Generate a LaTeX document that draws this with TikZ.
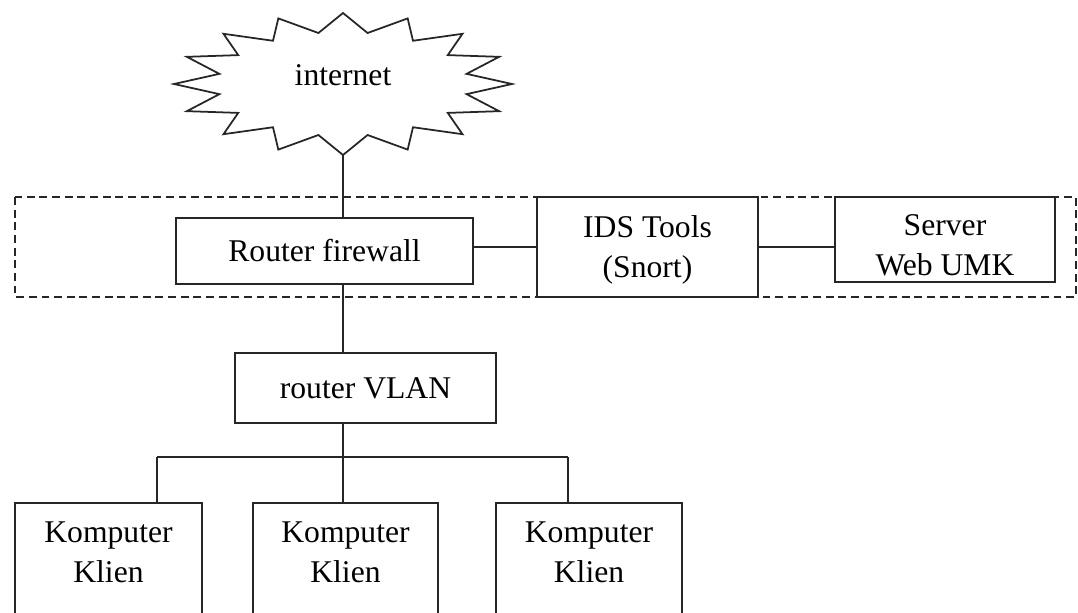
\documentclass[tikz,border=0pt]{standalone}
\usepackage{fontspec}
\setmainfont{Liberation Serif}
\usetikzlibrary{positioning}

\begin{document}
\begin{tikzpicture}[x=0.02cm, y=-0.02cm,
        every node/.style={font=\fontsize{18pt}{22.7pt}\selectfont},
        box/.style={rectangle,draw=black!85,line width=1pt,align=center,inner sep=0pt},
        txt/.style={align=center,inner sep=0pt},
        link/.style={draw=black!85,line width=1pt},
        zone/.style={draw=black!85,line width=1pt,dash pattern=on 4.5pt off 2.7pt}]
  \clip (0,0) rectangle (1078,612);
  % internet cloud
  \draw[link, line join=miter] plot[samples at={0,...,31}, variable=\k]
    ({343+cos(90+11.25*\k)*(iseven(\k)?169:126)}, {84+sin(90+11.25*\k)*(iseven(\k)?71:52)}) -- cycle;
  \node[txt] (net) at (343,75) {internet};
  \coordinate (nets) at (343,155);
  % server zone
  \draw[zone] (15,197) rectangle (1076,297);
  \node[box, minimum width=5.94cm, minimum height=1.32cm] (fw) at (324.5,251) {Router firewall};
  \node[box, minimum width=4.42cm, minimum height=2cm] (ids) at (647.5,247) {};
  \node[txt] (idst) at (647.5,250) {IDS Tools\\(Snort)};
  \node[box, minimum width=4.4cm, minimum height=1.7cm] (srv) at (945,239.5) {};
  \node[txt] (srvt) at (945,245) {Server\\Web UMK};
  \node[box, minimum width=5.22cm, minimum height=1.4cm] (vlan) at (365.5,388) {router VLAN};
  % clients
  \node[box, anchor=north, minimum width=3.74cm, minimum height=3cm] (pc1) at (108.5,502) {};
  \node[box, anchor=north, minimum width=3.7cm, minimum height=3cm] (pc2) at (345.5,502) {};
  \node[box, anchor=north, minimum width=3.72cm, minimum height=3cm] (pc3) at (589,502) {};
  \node[txt] (pc1t) at (108.5,552) {Komputer\\Klien};
  \node[txt] (pc2t) at (345.5,552) {Komputer\\Klien};
  \node[txt] (pc3t) at (589,552) {Komputer\\Klien};
  \coordinate (bus) at (343,457);
  \coordinate (bus1) at (157,457);
  \coordinate (bus3) at (568,457);

  \draw[link] (nets) -- (nets |- fw.north);
  \draw[link] (fw.east |- ids.west) -- (ids.west);
  \draw[link] (ids.east) -- (ids.east -| srv.west);
  \draw[link] (fw.south -| nets) -- (vlan.north -| nets);
  \draw[link] (vlan.south -| bus) -- (bus);
  \draw[link] (bus1) -- (bus3);
  \draw[link] (bus1) -- (bus1 |- pc1.north);
  \draw[link] (bus) -- (bus |- pc2.north);
  \draw[link] (bus3) -- (bus3 |- pc3.north);
\end{tikzpicture}
\end{document}
